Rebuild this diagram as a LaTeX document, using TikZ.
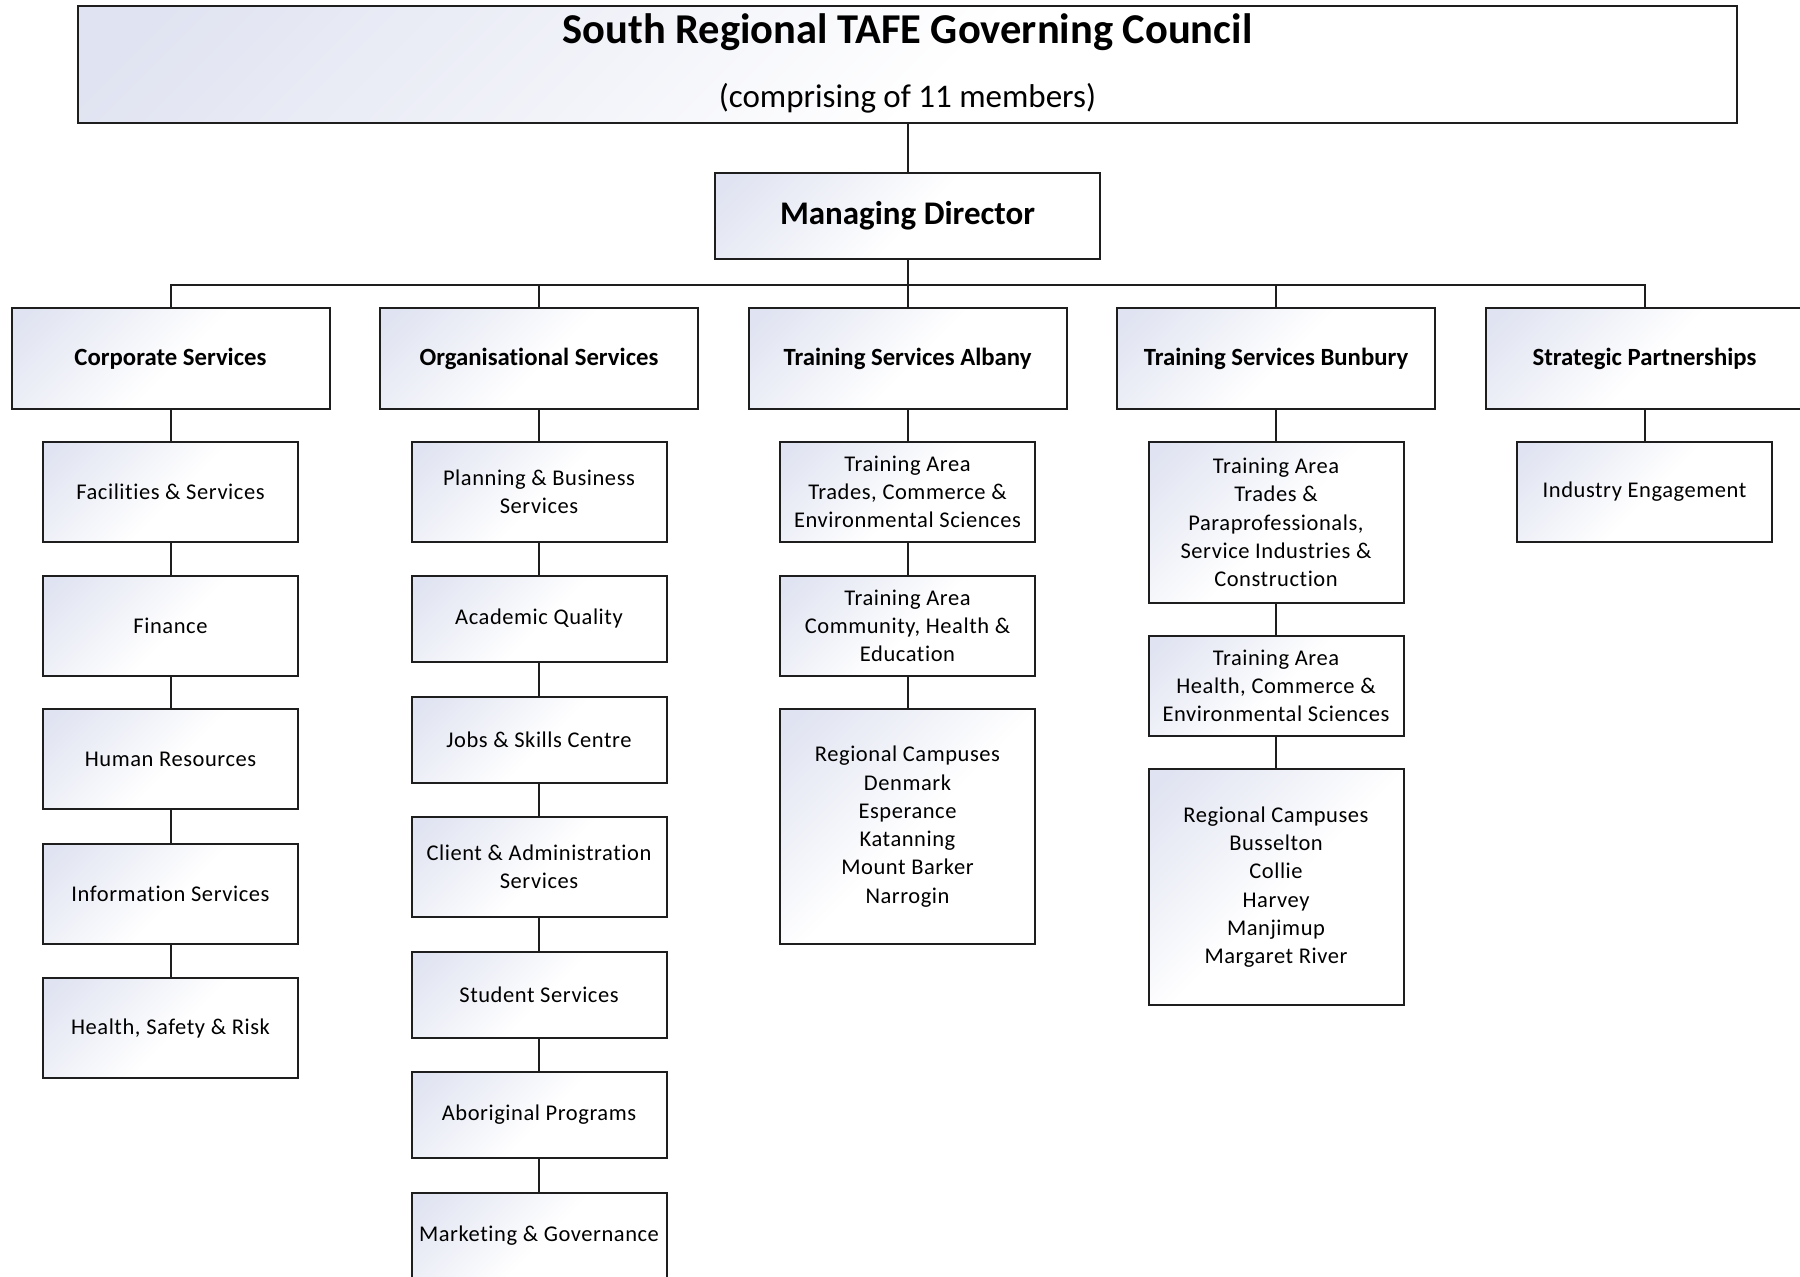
\documentclass[tikz,border=0pt]{standalone}
\usepackage{fontspec}
\setmainfont{Carlito}[Ligatures=NoCommon]
\definecolor{lav}{RGB}{224,227,241}
\definecolor{edge}{RGB}{30,30,30}
\pgfdeclarehorizontalshading{lavfade}{100bp}{color(0bp)=(lav); color(18bp)=(lav); color(52bp)=(white); color(100bp)=(white)}
\tikzset{
  box/.style={draw=edge, line width=0.8pt, shading=lavfade, shading angle=-45, shade, inner sep=0pt, align=center},
  sz/.style 2 args={minimum width=#1*0.4pt, minimum height=#2*0.4pt},
  lvtwo/.style={box, sz={318}{101}, font=\bfseries\fontsize{9.9}{12}\selectfont},
  lvthree/.style={box, font=\fontsize{9.0}{11.3}\selectfont\addfontfeature{LetterSpace=2.5}},
  conn/.style={draw=edge, line width=0.8pt}
}
\begin{document}
\begin{tikzpicture}[x=0.4pt,y=-0.4pt]
\useasboundingbox (0,0) rectangle (1800,1277);
% top
\node[box, sz={1659}{117}] (council) at (907.5,64.5) {};
\node[font=\bfseries\fontsize{17}{20}\selectfont, inner sep=0pt] (ctitle) at (907.5,32) {South Regional TAFE Governing Council};
\node[font=\fontsize{13.2}{16}\selectfont, inner sep=0pt] (csub) at (907.5,98) {(comprising of 11 members)};
\node[box, sz={385}{86}, font=\bfseries\fontsize{13.2}{16}\selectfont] (md) at (907.5,216) {Managing Director};
\coordinate (bus) at (907.5,285);
% level 2
\node[lvtwo] (corp) at (170.5,358.5) {Corporate Services};
\node[lvtwo] (org) at (539,358.5) {Organisational Services};
\node[lvtwo] (alb) at (907.5,358.5) {Training Services Albany};
\node[lvtwo] (bun) at (1276,358.5) {Training Services Bunbury};
\node[lvtwo] (strat) at (1644.5,358.5) {Strategic Partnerships};
% corporate column
\node[lvthree, sz={255}{100}] (fac) at (170.5,492) {Facilities \& Services};
\node[lvthree, sz={255}{100}] (fin) at (170.5,626) {Finance};
\node[lvthree, sz={255}{100}] (hr) at (170.5,759) {Human Resources};
\node[lvthree, sz={255}{100}] (info) at (170.5,894) {Information Services};
\node[lvthree, sz={255}{100}] (hsr) at (170.5,1028) {Health, Safety \& Risk};
% organisational column
\node[lvthree, sz={255}{100}] (plan) at (539,492) {Planning \& Business\\Services};
\node[lvthree, sz={255}{86}] (acad) at (539,619) {Academic Quality};
\node[lvthree, sz={255}{86}] (jobs) at (539,740) {Jobs \& Skills Centre};
\node[lvthree, sz={255}{100}] (client) at (539,867) {Client \& Administration\\Services};
\node[lvthree, sz={255}{86}] (stud) at (539,995) {Student Services};
\node[lvthree, sz={255}{86}] (abor) at (539,1115) {Aboriginal Programs};
\node[lvthree, sz={255}{86}] (mkt) at (539,1236) {Marketing \& Governance};
% albany column
\node[lvthree, sz={255}{100}] (alba) at (907.5,492) {Training Area\\Trades, Commerce \&\\Environmental Sciences};
\node[lvthree, sz={255}{100}] (albb) at (907.5,626) {Training Area\\Community, Health \&\\Education};
\node[lvthree, sz={255}{235}] (albc) at (907.5,826.5) {Regional Campuses\\Denmark\\Esperance\\Katanning\\Mount Barker\\Narrogin};
% bunbury column
\node[lvthree, sz={255}{161}] (buna) at (1276,522.5) {Training Area\\Trades \&\\Paraprofessionals,\\Service Industries \&\\Construction};
\node[lvthree, sz={255}{100}] (bunb) at (1276,686) {Training Area\\Health, Commerce \&\\Environmental Sciences};
\node[lvthree, sz={255}{235}] (bunc) at (1276,887) {Regional Campuses\\Busselton\\Collie\\Harvey\\Manjimup\\Margaret River};
% strategic column
\node[lvthree, sz={255}{100}] (ind) at (1644.5,492) {Industry Engagement};
% connectors
\draw[conn] (council) -- (md);
\draw[conn] (md) -- (bus);
\draw[conn] (bus) -| (corp.north);
\draw[conn] (bus) -| (org.north);
\draw[conn] (bus) -- (alb.north);
\draw[conn] (bus) -| (bun.north);
\draw[conn] (bus) -| (strat.north);
\draw[conn] (corp) -- (fac);
\draw[conn] (fac) -- (fin);
\draw[conn] (fin) -- (hr);
\draw[conn] (hr) -- (info);
\draw[conn] (info) -- (hsr);
\draw[conn] (org) -- (plan);
\draw[conn] (plan) -- (acad);
\draw[conn] (acad) -- (jobs);
\draw[conn] (jobs) -- (client);
\draw[conn] (client) -- (stud);
\draw[conn] (stud) -- (abor);
\draw[conn] (abor) -- (mkt);
\draw[conn] (alb) -- (alba);
\draw[conn] (alba) -- (albb);
\draw[conn] (albb) -- (albc);
\draw[conn] (bun) -- (buna);
\draw[conn] (buna) -- (bunb);
\draw[conn] (bunb) -- (bunc);
\draw[conn] (strat) -- (ind);
\end{tikzpicture}
\end{document}
